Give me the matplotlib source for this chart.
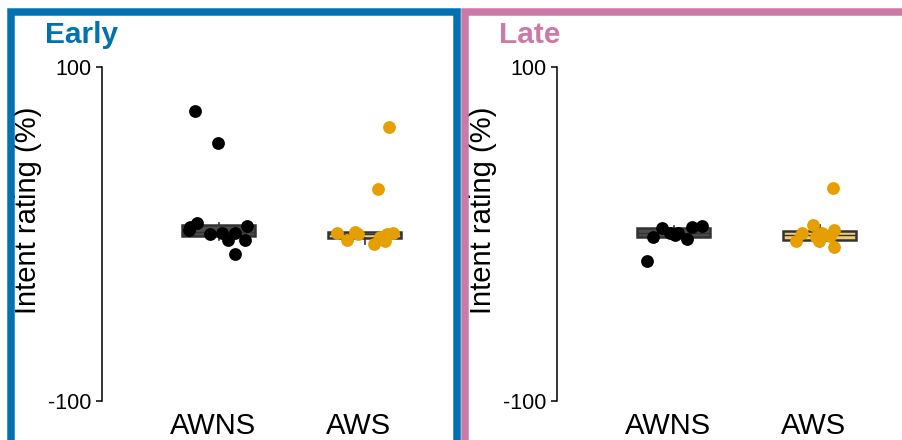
import matplotlib
matplotlib.use("Agg")
import matplotlib.pyplot as plt
from matplotlib.patches import Rectangle
import numpy as np

# ---- data ----
categories = ["AWNS", "AWS"]
panels = ["Early", "Late"]
early_awns = [73.8, 54.3, 4.4, 6.4, 2.4, 5.0, 0.0, 0.4, -3.6, 0.4, -3.6, -12.2]
early_awns_jit = [-0.122, 0.034, -0.156, -0.110, -0.163, 0.233, -0.019, 0.061, 0.104, 0.152, 0.221, 0.152]
early_aws = [63.9, 27.0, 0.4, -3.6, 1.4, 0.0, -6.0, -4.0, -1.6, 0.0, 0.8]
early_aws_jit = [0.207, 0.132, -0.151, -0.083, -0.026, -0.005, 0.104, 0.180, 0.146, 0.193, 0.235]
late_awns = [-16.0, -2.0, 3.4, 0.4, 0.8, -3.2, 4.0, 4.8, -0.6]
late_awns_jit = [-0.145, -0.100, -0.042, 0.015, 0.070, 0.129, 0.163, 0.232, 0.049]
late_aws = [27.3, -4.0, 0.8, 5.4, -1.6, 0.4, -4.0, -1.2, 2.4, -8.0]
late_aws_jit = [0.132, -0.125, -0.084, -0.007, 0.012, 0.057, 0.034, 0.114, 0.137, 0.137]
yticks = [-100, 100]
ytick_labels = ["-100", "100"]

# ---- style ----
W, H = 903, 440
plt.rcParams['font.family'] = ['Liberation Sans', 'DejaVu Sans']
cat_colors = ["#000000", "#E69F00"]
box_alpha = [0.7, 0.55]
panel_colors = ["#0072B2", "#CC79A7"]

fig = plt.figure(figsize=(W / 100, H / 100), dpi=100)

def fx(px):
    return px / W

def fy(py):
    return 1 - py / H

# frames
lw_px = 7.5
for (x0, x1), col in zip([(10.75, 457.25), (465.0, 960.0)], panel_colors):
    rect = Rectangle((fx(x0), fy(480)), fx(x1) - fx(x0), fy(12.5) - fy(480),
                     transform=fig.transFigure, fill=False, edgecolor=col,
                     linewidth=lw_px * 72 / 100, clip_on=False)
    fig.add_artist(rect)

# panel titles
for xpx, name, col in zip([45, 499], panels, panel_colors):
    fig.text(fx(xpx), fy(43), name, color=col, fontsize=21.5, fontweight='bold',
             ha='left', va='baseline')

data = [[early_awns, early_aws], [late_awns, late_aws]]
jits = [[early_awns_jit, early_aws_jit], [late_awns_jit, late_aws_jit]]
ax_left_px = [102, 557]
label_x_px = [42, 497]
x_start = 0.241
box_shift = 0.041
ax_w_px = 342

for p in range(2):
    ax = fig.add_axes([fx(ax_left_px[p]), fy(401), ax_w_px / W, 334 / H])
    xs = np.array([1, 2])
    bp = ax.boxplot(data[p], positions=xs + box_shift, widths=0.5, patch_artist=True,
                    showfliers=False, whis=1.5, zorder=2, manage_ticks=False,
                    medianprops=dict(color='#333333', linewidth=1.0),
                    whiskerprops=dict(color='#333333', linewidth=1.2),
                    capprops=dict(linewidth=0),
                    boxprops=dict(linewidth=1.8, edgecolor='#333333'))
    for patch, col, a in zip(bp['boxes'], cat_colors, box_alpha):
        patch.set_facecolor(matplotlib.colors.to_rgba(col, a))
    for i in range(2):
        xv = np.array(jits[p][i]) + xs[i]
        ax.scatter(xv, data[p][i], s=85, color=cat_colors[i], zorder=3,
                   linewidths=0, clip_on=False)
    ax.set_ylim(-100, 100)
    ax.set_xlim(x_start, x_start + ax_w_px / 146)
    ax.set_yticks(yticks)
    ax.set_yticklabels(ytick_labels, fontsize=15.5)
    ax.set_xticks(xs)
    ax.set_xticklabels(categories, fontsize=21)
    ax.tick_params(axis='x', length=0, pad=8)
    ax.tick_params(axis='y', length=4.3, width=1.1, pad=3.5)
    for s in ['top', 'right', 'bottom']:
        ax.spines[s].set_visible(False)
    ax.spines['left'].set_linewidth(1.1)
    ax.patch.set_alpha(0)
    ax.set_ylabel("Intent rating (%)", fontsize=21)
    ax.yaxis.set_label_coords((label_x_px[p] - ax_left_px[p]) / ax_w_px, (401 - 210) / 334)

fig.savefig("out.png", dpi=100)
